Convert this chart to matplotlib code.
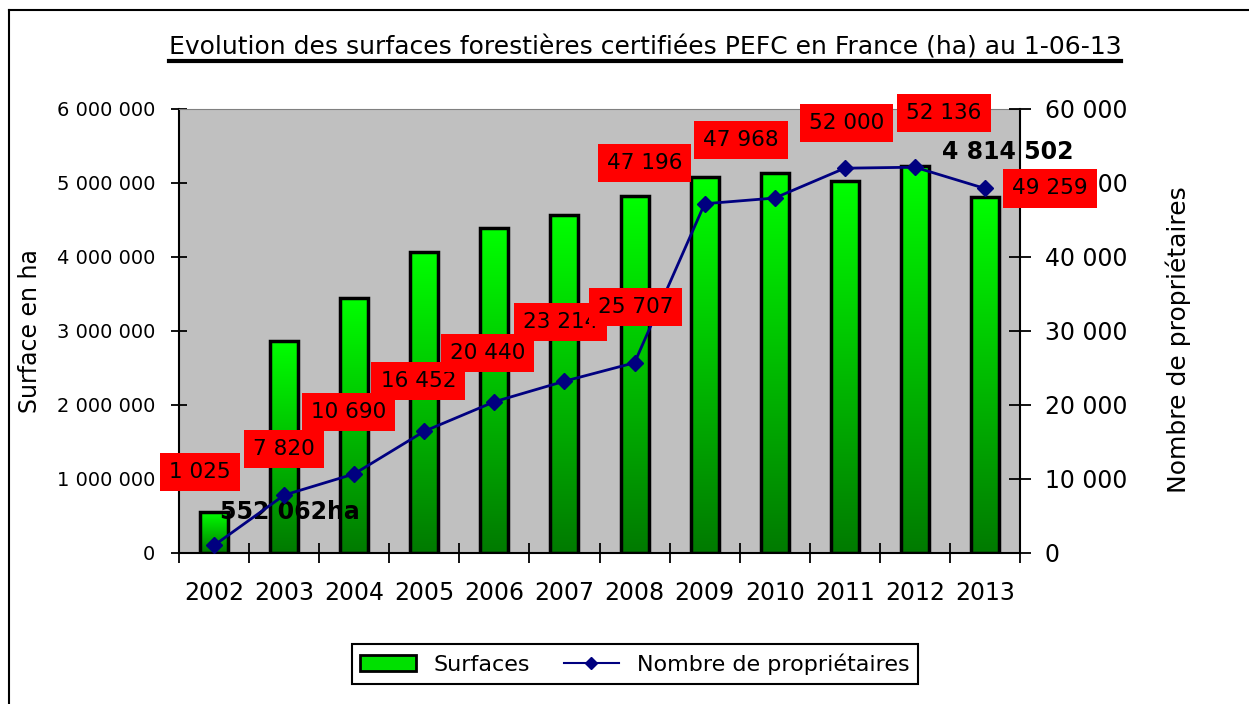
import numpy as np
import matplotlib.pyplot as plt
from matplotlib.colors import LinearSegmentedColormap
from matplotlib.lines import Line2D
from matplotlib.patches import Patch

# Données
annees = ["2002", "2003", "2004", "2005", "2006", "2007",
          "2008", "2009", "2010", "2011", "2012", "2013"]
surfaces = [552062, 2865000, 3450000, 4070000, 4390000, 4570000,
            4830000, 5080000, 5130000, 5030000, 5230000, 4814502]
proprietaires = [1025, 7820, 10690, 16452, 20440, 23214,
                 25707, 47196, 47968, 52000, 52136, 49259]

# Décalage des étiquettes rouges (pixels)
decalages = [(-14, 73), (0, 46), (-6, 62), (-6, 50), (-7, 49), (-4, 59),
             (1, 56), (-60, 41), (-34, 58), (2, 45), (29, 54), (65, 0)]


def fmt(v):
    return f"{v:,}".replace(",", " ")


fig = plt.figure(figsize=(12.49, 7.04), dpi=100)
ax = fig.add_axes([179 / 1249, 151 / 704, 841 / 1249, 444 / 704])
ax.set_facecolor("#c0c0c0")

x = np.arange(len(annees))
barres = ax.bar(x, surfaces, width=0.4, facecolor="none",
                edgecolor="black", linewidth=2.5, zorder=3)

# dégradé vert dans chaque barre
vert = LinearSegmentedColormap.from_list("vert", ["#007a00", "#00ff00"])
grad = np.linspace(0, 1, 256).reshape(-1, 1)
for b in barres:
    ax.imshow(grad, cmap=vert, origin="lower", aspect="auto", zorder=2,
              extent=(b.get_x(), b.get_x() + b.get_width(), 0, b.get_height()))

ax.set_xlim(-0.5, len(annees) - 0.5)
ax.set_ylim(0, 6000000)
ax.set_yticks(np.arange(0, 6000001, 1000000))
ax.set_yticklabels([fmt(v) for v in range(0, 6000001, 1000000)], fontsize=14)
ax.set_xticks(np.arange(-0.5, len(annees), 1))
ax.set_xticklabels([])
ax.set_xticks(x, minor=True)
ax.set_xticklabels(annees, minor=True, fontsize=17)
ax.tick_params(axis="x", which="major", direction="inout", length=14, width=1.3)
ax.tick_params(axis="x", which="minor", length=0, pad=20)
ax.tick_params(axis="y", direction="inout", length=12, width=1.3, pad=11)
ax.set_ylabel("Surface en ha", fontsize=17)
ax.yaxis.set_label_coords(-0.163, 0.5)

for s in ["left", "bottom", "right"]:
    ax.spines[s].set_linewidth(1.5)
ax.spines["top"].set_color("#808080")

# étiquettes des barres
ax.annotate("552 062ha", xy=(x[0], surfaces[0]), xytext=(76, 0),
            textcoords="offset pixels", ha="center", va="center",
            fontsize=17, fontweight="bold", zorder=5)
ax.annotate(fmt(surfaces[-1]), xy=(x[-1], surfaces[-1]), xytext=(23, 45),
            textcoords="offset pixels", ha="center", va="center",
            fontsize=17, fontweight="bold", zorder=5, annotation_clip=False)

# axe secondaire
ax2 = ax.twinx()
ax2.plot(x, proprietaires, color="#000080", linewidth=2, marker="D",
         markersize=8, zorder=4)
ax2.set_ylim(0, 60000)
ax2.set_yticks(np.arange(0, 60001, 10000))
ax2.set_yticklabels([fmt(v) for v in range(0, 60001, 10000)], fontsize=17)
ax2.tick_params(axis="y", direction="inout", length=16, width=1.3, pad=10)
ax2.set_ylabel("Nombre de propriétaires", fontsize=18)
ax2.yaxis.set_label_coords(1.1736, 0.48)
for s in ax2.spines.values():
    s.set_visible(False)

for i, v in enumerate(proprietaires):
    ax2.annotate(fmt(v), xy=(x[i], v), xytext=decalages[i],
                 textcoords="offset pixels", ha="center", va="center",
                 fontsize=15.5, annotation_clip=False, zorder=6,
                 bbox=dict(boxstyle="square,pad=0.42", facecolor="red",
                           edgecolor="none"))

# titre souligné
titre = fig.text(0.5164, 0.933,
                 "Evolution des surfaces forestières certifiées PEFC en France (ha) au 1-06-13",
                 ha="center", va="center", fontsize=18)

handles = [Patch(facecolor="#00e000", edgecolor="black", linewidth=2),
           Line2D([], [], color="#000080", linewidth=1.5, marker="D", markersize=6)]
leg = fig.legend(handles, ["Surfaces", "Nombre de propriétaires"], ncol=2,
                 loc="center", bbox_to_anchor=(0.5084, 0.0568), fontsize=16,
                 fancybox=False, edgecolor="black", framealpha=1,
                 handlelength=2.5, columnspacing=1.5)
leg.get_frame().set_linewidth(1.5)

# cadre extérieur
fig.add_artist(Line2D([9 / 1249, 1], [1 - 10 / 704, 1 - 10 / 704],
                      color="black", linewidth=1.5))
fig.add_artist(Line2D([9 / 1249, 9 / 1249], [0, 1 - 10 / 704],
                      color="black", linewidth=1.5))

fig.canvas.draw()
bb = titre.get_window_extent(fig.canvas.get_renderer())
W, H = fig.bbox.width, fig.bbox.height
fig.add_artist(Line2D([bb.x0 / W, bb.x1 / W], [(bb.y0 - 2) / H, (bb.y0 - 2) / H],
                      color="black", linewidth=3))

fig.savefig("out.png", dpi=100)
